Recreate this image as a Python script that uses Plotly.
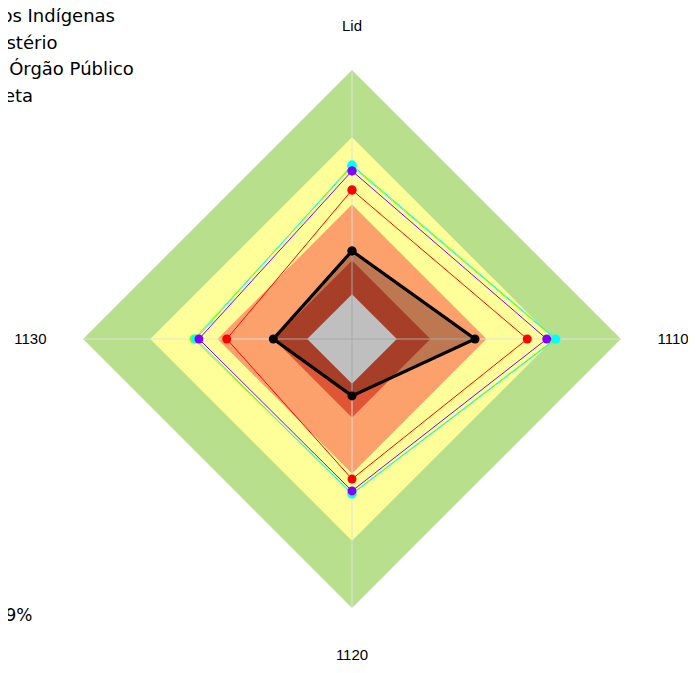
import plotly.graph_objects as go

# ---------------- data ----------------
categories = ["Lid", "1110", "1120", "1130"]

band_levels = [120, 90, 60, 35, 20]
band_colors = ["#B8E08C", "#FFFF99", "#FCA06C", "#DF5536", "#FFFFFF"]

series_names = ["Povos Indígenas", "Ministério", "Seu Órgão Público", "Gazeta"]
series_colors = ["#FF0000", "#80FF00", "#00FFFF", "#8000FF"]
red_vals = [66.5, 78.2, 62.5, 55.9]
green_vals = [77.0, 90.6, 69.0, 70.5]
cyan_vals = [77.6, 91.0, 69.2, 69.8]
purple_vals = [75.0, 86.9, 67.8, 68.3]
series_vals = [red_vals, green_vals, cyan_vals, purple_vals]

black_name = "Entidade"
black_vals = [39.3, 54.9, 25.4, 35.1]

radial_max = 136.1
note_text = "Resultado<br>Média 99,9%"

# ---------------- figure ----------------
def closed(v):
    return list(v) + [v[0]]

theta_closed = closed(categories)
fig = go.Figure()

for lvl, col in zip(band_levels, band_colors):
    fig.add_trace(go.Scatterpolar(
        r=[lvl] * len(categories) + [lvl], theta=theta_closed,
        mode="lines", fill="toself", fillcolor=col,
        line=dict(width=0, color=col), hoverinfo="skip", showlegend=False))

# spokes
spoke_r, spoke_t = [], []
for c in categories:
    spoke_r += [0, band_levels[0], None]
    spoke_t += [c, c, None]
fig.add_trace(go.Scatterpolar(
    r=spoke_r, theta=spoke_t, mode="lines",
    line=dict(color="rgba(225,225,225,0.65)", width=1.5),
    hoverinfo="skip", showlegend=False, connectgaps=False))

for name, col, vals in zip(series_names, series_colors, series_vals):
    fig.add_trace(go.Scatterpolar(
        r=closed(vals), theta=theta_closed, name=name,
        mode="lines+markers", line=dict(color=col, width=1),
        marker=dict(color=col, size=9)))

fig.add_trace(go.Scatterpolar(
    r=closed(black_vals), theta=theta_closed, name=black_name,
    mode="lines+markers", fill="toself", fillcolor="rgba(0,0,0,0.25)",
    line=dict(color="black", width=3.2), marker=dict(color="black", size=9),
    showlegend=False))

fig.update_layout(
    width=696, height=673,
    margin=dict(l=34.3, r=41.7, t=26, b=37, autoexpand=False),
    paper_bgcolor="white",
    font=dict(family="DejaVu Sans, Verdana, sans-serif", color="black"),
    polar=dict(
        bgcolor="white",
        gridshape="linear",
        angularaxis=dict(rotation=90, direction="clockwise", showgrid=False,
                         showline=False, ticks="",
                         tickfont=dict(size=15, color="black",
                                       family="Arial, Liberation Sans, sans-serif")),
        radialaxis=dict(visible=False, range=[0, radial_max]),
    ),
    legend=dict(xref="paper", yref="paper", x=-0.1814, y=1.0605,
                xanchor="left", yanchor="top", font=dict(size=18),
                bgcolor="rgba(0,0,0,0)"),
    annotations=[dict(text=note_text, xref="paper", yref="paper",
                      x=-0.1965, y=0.0656, xanchor="left", yanchor="middle",
                      align="left", showarrow=False, font=dict(size=17))],
)

fig.write_html("out.html")
